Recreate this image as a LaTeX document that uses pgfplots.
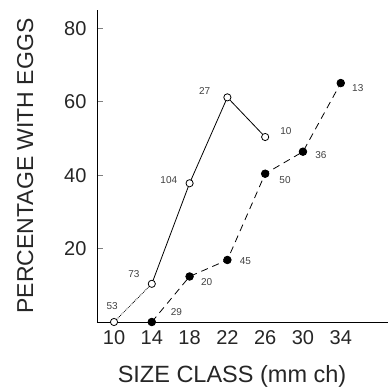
\documentclass[border=0pt]{standalone}
\usepackage{fontspec}
\setmainfont{Liberation Sans}
\usepackage{pgfplots}
\pgfplotsset{compat=1.18}
\begin{document}
\begin{tikzpicture}
\useasboundingbox (-97pt,-70pt) rectangle (291pt,322pt);
\begin{axis}[
  at={(0,0)}, anchor=south west,
  scale only axis,
  width=291pt, height=312pt,
  xmin=8.2, xmax=39, ymin=0, ymax=85,
  axis x line=bottom, axis y line=left,
  axis line style={-, line width=0.9pt},
  xtick={10,14,18,22,26,30,34},
  ytick={20,40,60,80},
  x tick style={draw=none},
  y tick style={line width=0.9pt},
  major tick length=6pt,
  tick align=inside,
  /pgf/number format/assume math mode=true,
  tick label style={font=\fontsize{20}{22}\selectfont, text=black!85},
  xticklabel style={yshift=-5pt},
  yticklabel style={xshift=-7pt},
  xlabel={SIZE CLASS (mm ch)},
  ylabel={PERCENTAGE WITH EGGS},
  label style={font=\fontsize{23}{26}\selectfont, text=black!85},
  xlabel style={at={(axis description cs:0.464,0)}, anchor=north, yshift=-42pt, inner sep=1pt, font=\fontsize{23.5}{26}\selectfont},
  ylabel style={at={(axis description cs:0,0.5)}, anchor=south, yshift=60pt},
  clip=false,
]
\addplot[black, line width=0.8pt, densely dotted, forget plot] coordinates {(10,0) (14,10.4)};
\addplot[black, line width=0.8pt, mark=*, mark options={solid, fill=white, line width=0.8pt}, mark size=3.6pt] coordinates {(14,10.4) (18,37.8) (22,61.2) (26,50.4)};
\addplot[only marks, black, mark=*, mark options={fill=white, line width=0.8pt}, mark size=3.6pt] coordinates {(10,0)};
\addplot[black, line width=0.8pt, dashed, dash pattern=on 7pt off 5pt, mark=*, mark options={solid, fill=black}, mark size=3.8pt] coordinates {(14,0) (18,12.4) (22,16.9) (26,40.4) (30,46.4) (34,65.1)};
\begin{scope}[every node/.style={font=\fontsize{10}{11}\selectfont, text=black!75}]
\node at (axis cs:9.8,4.3) {53};
\node at (axis cs:12.1,13.1) {73};
\node at (axis cs:15.8,38.7) {104};
\node at (axis cs:19.6,62.8) {27};
\node at (axis cs:28.2,52.0) {10};
\node at (axis cs:16.6,2.6) {29};
\node at (axis cs:19.8,10.9) {20};
\node at (axis cs:23.9,16.5) {45};
\node at (axis cs:28.1,38.7) {50};
\node at (axis cs:31.9,45.6) {36};
\node at (axis cs:35.8,63.6) {13};
\end{scope}
\end{axis}
\end{tikzpicture}
\end{document}
